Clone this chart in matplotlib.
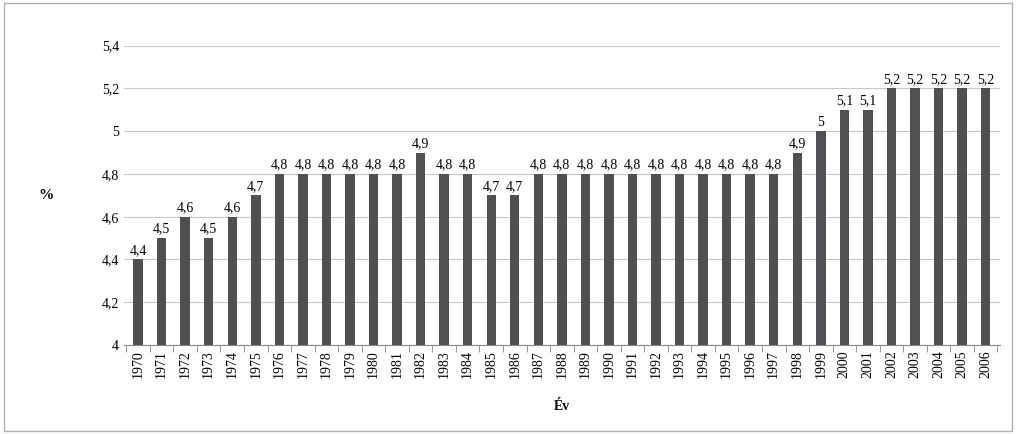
import matplotlib.pyplot as plt
from matplotlib.patches import Rectangle

years = list(range(1970, 2007))
values = [4.4, 4.5, 4.6, 4.5, 4.6, 4.7,
          4.8, 4.8, 4.8, 4.8, 4.8, 4.8,
          4.9, 4.8, 4.8, 4.7, 4.7,
          4.8, 4.8, 4.8, 4.8, 4.8, 4.8, 4.8, 4.8, 4.8, 4.8, 4.8,
          4.9, 5.0, 5.1, 5.1,
          5.2, 5.2, 5.2, 5.2, 5.2]

def fmt(v):
    s = f'{v:g}'
    return s.replace('.', ',')

plt.rcParams['font.family'] = ['Liberation Serif', 'DejaVu Serif']

fig = plt.figure(figsize=(10.16, 4.34), dpi=100)
ax = fig.add_axes([0.122, 0.205, 0.862, 0.69])
fig.patches.append(Rectangle((0.004, 0.006), 0.992, 0.988, transform=fig.transFigure,
                             fill=False, edgecolor='#b0b0b0', linewidth=1))

x = list(range(len(years)))
ax.bar(x, values, width=0.4, color='#505054', zorder=3)
for xi, v in zip(x, values):
    ax.text(xi, v + 0.012, fmt(v), ha='center', va='bottom', fontsize=10)

ax.set_ylim(4, 5.4)
ax.set_xlim(-0.6, len(years) - 0.4)
yt = [4, 4.2, 4.4, 4.6, 4.8, 5, 5.2, 5.4]
ax.set_yticks(yt)
ax.set_yticklabels([fmt(v) for v in yt], fontsize=10)
ax.set_xticks(x)
ax.set_xticklabels([str(y) for y in years], rotation=90, fontsize=10)
ax.grid(axis='y', color='#c8c8c8', linewidth=0.8, zorder=0)
for s in ['top', 'right', 'left']:
    ax.spines[s].set_visible(False)
ax.spines['bottom'].set_color('#888888')
ax.tick_params(axis='y', length=0)
ax.set_xticks([i - 0.5 for i in range(len(years) + 1)], minor=True)
ax.tick_params(axis='x', which='major', length=0)
ax.tick_params(axis='x', which='minor', length=5, color='#888888')

ax.set_xlabel('Év', fontsize=10, fontweight='bold', labelpad=16)
ax.set_ylabel('%', fontsize=11, fontweight='bold', rotation=0, labelpad=40, va='center')

fig.savefig('out.png', dpi=100)
